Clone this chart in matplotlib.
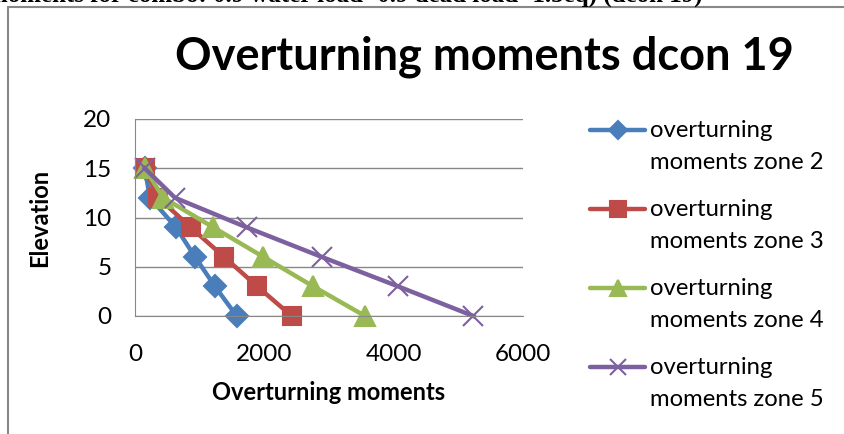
import matplotlib.pyplot as plt
from matplotlib.patches import Rectangle
from matplotlib.lines import Line2D

plt.rcParams['font.family'] = ['Lato', 'DejaVu Sans']

# data
elevation = [15, 12, 9, 6, 3, 0]
zone2 = [150, 232, 634, 928, 1237, 1572]
zone3 = [150, 361, 861, 1377, 1892, 2423]
zone4 = [150, 438, 1211, 1985, 2758, 3557]
zone5 = [150, 619, 1727, 2887, 4072, 5232]
labels = ['overturning\nmoments zone 2', 'overturning\nmoments zone 3',
          'overturning\nmoments zone 4', 'overturning\nmoments zone 5']
x_ticks = [0, 2000, 4000, 6000]
y_ticks = [0, 5, 10, 15, 20]

fig = plt.figure(figsize=(8.45, 4.34), dpi=100)
W, H = 845, 434
ax = fig.add_axes([135 / W, 1 - 316 / H, (523 - 135) / W, (316 - 119) / H])

# chart border (cut off at right and bottom like the reference)
fig.patches.append(Rectangle((8 / W, -0.1), 1.0, 1 - 7.5 / H + 0.1, transform=fig.transFigure,
                             fill=False, edgecolor='#888888', linewidth=1.5))
# leftover document caption above the chart, only its bottom edge shows
fig.text(-0.015, 1 - 2 / H, 'moments for combo: 0.9 water load+0.9 dead load+1.5eq) (dcon 19)',
         family='Liberation Serif', fontsize=18, fontweight='bold',
         ha='left', va='baseline', color='black')

styles = [('#4a7ebb', 'D', 11), ('#be4b48', 's', 13),
          ('#98b954', '^', 14), ('#7d60a0', 'x', 14)]
series = [zone2, zone3, zone4, zone5]
for vals, (c, m, ms) in zip(series, styles):
    ax.plot(vals, elevation, color=c, lw=3.2, marker=m, ms=ms, mew=1.5, clip_on=False)

ax.set_xlim(0, 6000)
ax.set_ylim(0, 20)
ax.set_xticks(x_ticks)
ax.set_yticks(y_ticks)
ax.tick_params(length=0, labelsize=17.5, pad=20)
ax.tick_params(axis='y', pad=17)
ax.grid(axis='y', color='#888888', lw=1)
ax.set_axisbelow(True)
for s in ['top', 'right']:
    ax.spines[s].set_visible(False)
for s in ['left', 'bottom']:
    ax.spines[s].set_color('#888888')

ax.set_xlabel('Overturning moments', fontsize=17, fontweight='bold', labelpad=12)
ax.set_ylabel('Elevation', fontsize=17, fontweight='bold', labelpad=23)

fig.text(484 / W, 1 - 57 / H, 'Overturning moments dcon 19', fontsize=32.5,
         fontweight='bold', ha='center', va='center')

# legend, handle aligned with first text line like Excel
for i, (lab, (c, m, ms)) in enumerate(zip(labels, styles)):
    yc = 1 - (130 + i * 79) / H
    fig.add_artist(Line2D([590 / W, 645 / W], [yc, yc], color=c, lw=3.2,
                          solid_capstyle='round', transform=fig.transFigure))
    fig.add_artist(Line2D([618 / W], [yc], color=c, marker=m, ms=ms * 0.85, mew=1.5,
                          transform=fig.transFigure))
    fig.text(650 / W, yc + 10 / H, lab, fontsize=17.2, ha='left', va='top',
             linespacing=1.65)

fig.savefig('out.png', dpi=100)
